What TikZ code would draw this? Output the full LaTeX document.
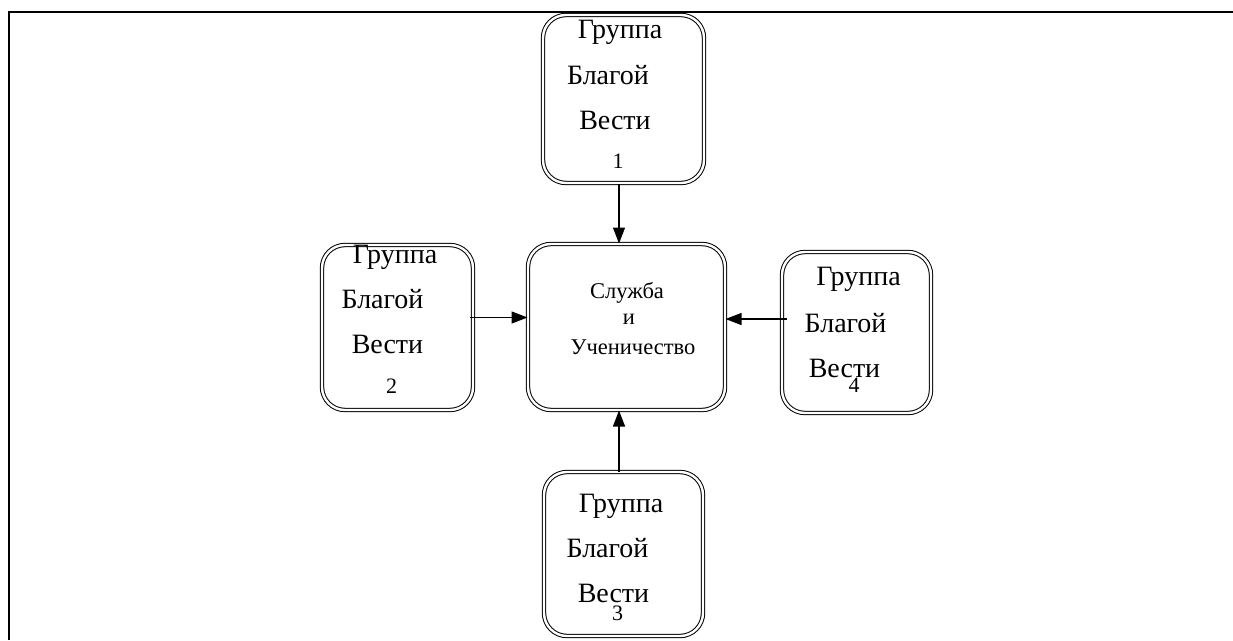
\documentclass[tikz,border=0pt]{standalone}
\usepackage{fontspec}
\setmainfont{Liberation Serif}
\usetikzlibrary{arrows.meta,calc}
\begin{document}
\begin{tikzpicture}[x=1pt,y=-1pt,
  gbox/.style={draw,double,line width=1pt,double distance=2.4pt,rounded corners=23pt,inner sep=0pt,minimum width=#1},
  lbl/.style={anchor=base,inner sep=0pt,font=\fontsize{28}{28}\selectfont},
  num/.style={anchor=base,inner sep=0pt,font=\fontsize{22}{22}\selectfont},
  ctr/.style={anchor=base,inner sep=0pt,font=\fontsize{22.5}{22.5}\selectfont},
  conn/.style={line width=1.3pt,-{Triangle[length=16pt,width=12pt]}}]
\useasboundingbox (0,0) rectangle (1233,640);
\draw[line width=2pt] (9,640) coordinate (fl) -- (9,12) coordinate (fc) -- (1233,12) coordinate (fr);
% boxes
\node[gbox=161pt,minimum height=168pt] (b1) at (623.5,99) {};
\node[gbox=197pt,minimum height=166pt] (c) at (626.5,327) {};
\node[gbox=151pt,minimum height=165pt] (b2) at (397.5,327.5) {};
\node[gbox=149pt,minimum height=161pt] (b4) at (856.5,332.5) {};
\node[gbox=159pt,minimum height=164pt] (b3) at (623.5,554) {};
% texts box 1
\node[lbl] (t1a) at (620,38) {Группа};
\node[lbl] (t1b) at (608,84) {Благой};
\node[lbl] (t1c) at (615,129) {Вести};
\node[num] (t1d) at (618,168) {1};
% box 2
\node[lbl] (t2a) at (395,263) {Группа};
\node[lbl] (t2b) at (382.5,308) {Благой};
\node[lbl] (t2c) at (387.5,353) {Вести};
\node[num] (t2d) at (391.5,393) {2};
% box 4
\node[lbl] (t4a) at (858.5,285) {Группа};
\node[lbl] (t4b) at (845.5,332) {Благой};
\node[lbl] (t4c) at (844.5,377) {Вести};
\node[num] (t4d) at (854,392) {4};
% box 3
\node[lbl] (t3a) at (621,512) {Группа};
\node[lbl] (t3b) at (607.5,557) {Благой};
\node[lbl] (t3c) at (613.5,602) {Вести};
\node[num] (t3d) at (617.5,620) {3};
% centre
\node[ctr] (ca) at (627,298) {Служба};
\node[ctr] (cb) at (629,324) {и};
\node[ctr] (cc) at (633,354) {Ученичество};
% connectors
\draw[conn] ([xshift=-4.5pt]b1.south) -- ([xshift=-4.5pt]b1.south |- c.north);
\draw[conn] ([xshift=-4.5pt]b3.north) -- ([xshift=-4.5pt]b3.north |- c.south);
\draw[conn] ([xshift=-4pt,yshift=10pt]b2.east) -- ([yshift=10pt]b2.east -| c.west);
\draw[conn] ([xshift=5pt,yshift=13.5pt]b4.west) -- ([yshift=13.5pt]b4.west -| c.east);
\end{tikzpicture}
\end{document}
